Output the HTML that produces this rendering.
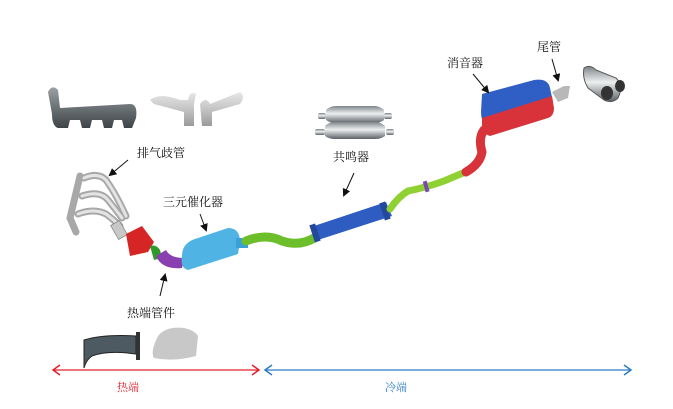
<!DOCTYPE html>
<html><head><meta charset="utf-8"><style>
html,body{margin:0;padding:0;background:#fff;width:673px;height:409px;overflow:hidden}
svg{display:block}
text{font-family:"Liberation Serif","Noto Serif CJK SC",serif;font-size:12px;fill:#111}
</style></head><body>
<svg width="673" height="409" viewBox="0 0 673 409" xmlns="http://www.w3.org/2000/svg">
<defs>
<marker id="ah" markerWidth="8" markerHeight="8" refX="6" refY="4" orient="auto" markerUnits="userSpaceOnUse"><path d="M0,0 L8,4 L0,8 z" fill="#111"/></marker>
<linearGradient id="gm" x1="0" y1="0" x2="0" y2="1"><stop offset="0" stop-color="#9aa0a4"/><stop offset="0.5" stop-color="#6b7275"/><stop offset="1" stop-color="#3e4447"/></linearGradient>
<linearGradient id="gs" x1="0" y1="0" x2="0" y2="1"><stop offset="0" stop-color="#e8e8e8"/><stop offset="0.5" stop-color="#c4c4c4"/><stop offset="1" stop-color="#9a9a9a"/></linearGradient>
<linearGradient id="gr" x1="0" y1="0" x2="0" y2="1"><stop offset="0" stop-color="#7d858a"/><stop offset="0.45" stop-color="#eef0f0"/><stop offset="1" stop-color="#5a6065"/></linearGradient>
</defs>

<!-- top left manifolds -->
<path d="M48,92 q4,-8 10,-2 l2,18 l70,-4 q8,0 6,14 l-4,10 -8,0 -2,-8 -8,0 -2,8 -8,0 -2,-8 -10,0 -2,8 -8,0 -2,-8 -10,0 -2,8 -10,0 q-6,-2 -6,-14 z" fill="url(#gm)"/>
<path d="M150,100 q10,-8 30,0 l8,0 q2,-10 8,-6 l-2,10 0,22 -10,0 0,-14 -30,-8 z M200,104 q6,-8 10,0 l30,-12 q6,4 0,12 l-28,8 0,14 -10,0 z" fill="url(#gs)"/>

<!-- resonator image -->
<g fill="url(#gr)">
<rect x="318" y="113" width="8" height="6" rx="2"/><rect x="384" y="113" width="8" height="6" rx="2"/>
<path d="M326,110 q4,-4 10,-4 h38 q6,0 10,4 v10 q-4,3 -10,3 h-38 q-6,0 -10,-3 z"/>
<rect x="315" y="129" width="10" height="6" rx="2"/><rect x="386" y="129" width="8" height="6" rx="2"/>
<path d="M325,126 q4,-4 10,-4 h40 q6,0 10,4 v10 q-4,3 -10,3 h-40 q-6,0 -10,-3 z"/>
</g>

<!-- exhaust manifold main (frame-like) -->
<g fill="none" stroke="#a8a8a8" stroke-linecap="round">
<path d="M80,176 l-10,42 6,14" stroke-width="7"/>
<path d="M84,178 q14,-6 22,2 q10,14 20,36" stroke-width="7"/>
<path d="M82,196 q18,-6 26,4 q8,10 14,18" stroke-width="7"/>
<path d="M78,214 q16,-6 28,0 q8,6 14,12" stroke-width="7"/>
</g>
<g fill="none" stroke="#e4e4e4" stroke-linecap="round">
<path d="M84,178 q14,-6 22,2 q10,14 20,36" stroke-width="3"/>
<path d="M82,196 q18,-6 26,4 q8,10 14,18" stroke-width="3"/>
<path d="M78,214 q16,-6 28,0 q8,6 14,12" stroke-width="3"/>
</g>
<rect x="114" y="222" width="10" height="16" fill="#c8c8c8" stroke="#888" stroke-width="0.8" transform="rotate(-30 119 230)"/>

<!-- hot end parts -->
<path d="M126,234 l16,-8 l12,16 -6,10 -18,4 z" fill="#d62525"/>
<path d="M150,246 q6,-2 10,4 l2,8 -8,2 z" fill="#2f9a2a"/>
<path d="M156,256 q6,14 26,12 l2,-10 q-14,0 -18,-8 z" fill="#8a3fb0"/>
<path d="M182,256 q0,-14 16,-18 l30,-10 q12,0 12,14 l-2,12 -50,16 q-8,-2 -6,-14 z" fill="#4fb4e4"/>
<rect x="236" y="238" width="12" height="10" fill="#3aa0d8"/>

<!-- green pipe 1 -->
<path d="M246,241 q20,-8 36,0 q18,6 34,-4" fill="none" stroke="#6cbf2a" stroke-width="9" stroke-linecap="round"/>
<!-- resonator -->
<path d="M314,226 l72,-24 l6,14 -74,24 z" fill="#2e5cc0"/>
<rect x="312" y="224" width="6" height="18" fill="#24489a" transform="rotate(-18 315 233)"/>
<rect x="382" y="202" width="6" height="18" fill="#24489a" transform="rotate(-18 385 211)"/>
<!-- green pipe 2 -->
<path d="M390,209 q8,-12 18,-18 q20,-4 36,-10 q14,-6 24,-10" fill="none" stroke="#8fd032" stroke-width="7" stroke-linecap="round"/>
<rect x="424" y="181" width="4" height="11" fill="#7a48b0" transform="rotate(-15 426 186)"/>
<!-- red pipe -->
<path d="M466,172 q14,-8 16,-20 q-4,-14 2,-22 l10,-6" fill="none" stroke="#d8333a" stroke-width="9" stroke-linecap="round"/>
<!-- muffler -->
<path d="M482,94 l52,-14 q14,-2 16,8 l3,14 -68,22 q-4,-4 -4,-12 z" fill="#2f5fc4"/>
<path d="M482,118 l70,-22 l2,12 q0,8 -6,10 l-58,18 q-6,-2 -8,-8 z" fill="#d8333a"/>
<path d="M552,92 l12,-6 l6,0 -2,12 -10,4 z" fill="#b8b8b8"/>
<!-- tailpipe image -->
<path d="M584,68 q6,-4 12,2 l20,8 q8,8 2,20 q-6,6 -14,2 l-16,-12 q-6,-10 -4,-20 z" fill="url(#gr)" stroke="#555" stroke-width="1"/>
<ellipse cx="607" cy="93" rx="6" ry="7" fill="#333"/><ellipse cx="620" cy="86" rx="5" ry="6" fill="#333"/>

<!-- bottom images -->
<path d="M84,340 q20,-6 52,-4 l0,18 q-28,-4 -44,2 q-6,4 -8,12 z" fill="#4d5a62" stroke="#222" stroke-width="1"/>
<rect x="136" y="332" width="4" height="28" fill="#333"/>
<path d="M158,336 q8,-10 26,-8 q10,2 14,8 l-2,20 q-22,6 -42,2 q-4,-6 4,-22 z" fill="#c8c8c8"/>

<!-- labels -->
<text x="137" y="157">排气歧管</text>
<text x="163" y="206">三元催化器</text>
<text x="127" y="317">热端管件</text>
<text x="333" y="161">共鸣器</text>
<text x="447" y="67">消音器</text>
<text x="537" y="51">尾管</text>

<!-- pointer arrows -->
<line x1="128" y1="160" x2="110" y2="175" stroke="#111" stroke-width="1" marker-end="url(#ah)"/>
<line x1="200" y1="214" x2="206" y2="230" stroke="#111" stroke-width="1" marker-end="url(#ah)"/>
<line x1="160" y1="296" x2="165" y2="275" stroke="#111" stroke-width="1" marker-end="url(#ah)"/>
<line x1="354" y1="173" x2="344" y2="195" stroke="#111" stroke-width="1" marker-end="url(#ah)"/>
<line x1="473" y1="74" x2="488" y2="92" stroke="#111" stroke-width="1" marker-end="url(#ah)"/>
<line x1="552" y1="59" x2="558" y2="80" stroke="#111" stroke-width="1" marker-end="url(#ah)"/>

<!-- hot/cold range -->
<line x1="54" y1="370" x2="258" y2="370" stroke="#e0202a" stroke-width="1.3"/>
<path d="M60,365 L53,370 L60,375" fill="none" stroke="#e0202a" stroke-width="1.5"/>
<path d="M252,365 L259,370 L252,375" fill="none" stroke="#e0202a" stroke-width="1.5"/>
<line x1="266" y1="370" x2="630" y2="370" stroke="#2a7cc8" stroke-width="1.3"/>
<path d="M272,365 L265,370 L272,375" fill="none" stroke="#2a7cc8" stroke-width="1.5"/>
<path d="M624,365 L631,370 L624,375" fill="none" stroke="#2a7cc8" stroke-width="1.5"/>
<text x="117" y="391" style="fill:#e0202a;font-size:11px">热端</text>
<text x="385" y="391" style="fill:#2a7cc8;font-size:11px">冷端</text>
</svg>
</body></html>
